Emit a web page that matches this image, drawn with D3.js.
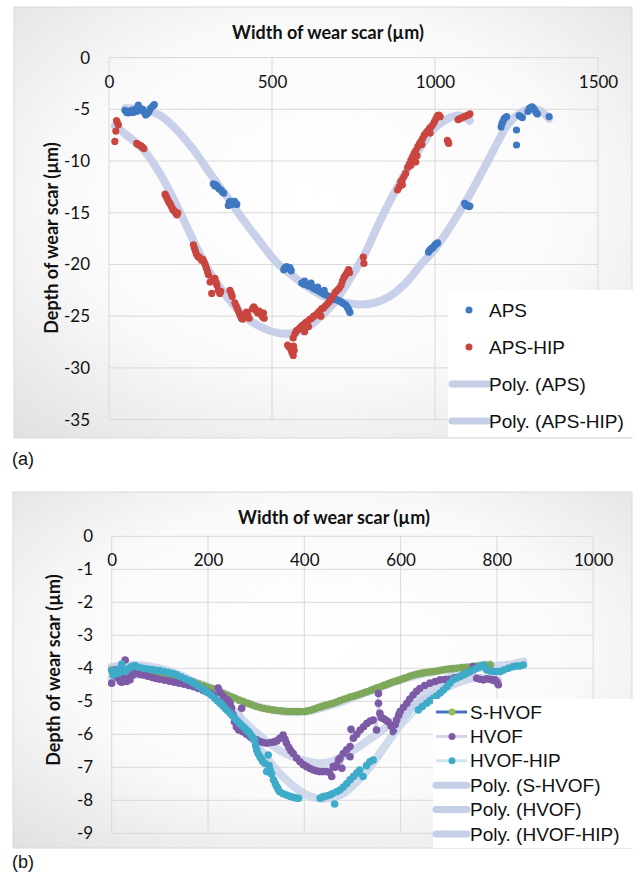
<!DOCTYPE html>
<html>
<head>
<meta charset="utf-8">
<script src="https://cdn.jsdelivr.net/npm/d3@7"></script>
<style>
  body { margin: 0; background: #fff; }
  svg { display: block; }
</style>
</head>
<body>
<div id="chart"></div>
<script>
// ---- (a) APS / APS-HIP : width (µm), depth (µm) ----
const apsPoints = [
  [49,-5.1],[54,-5.3],[59,-5.35],[64,-5.2],[69,-5.1],[74,-5.3],[80,-5.0],[85,-5.2],[90,-4.6],[95,-4.9],
  [100,-5.1],[103,-5.0],[108,-5.3],[113,-5.55],[118,-5.4],[123,-5.2],[128,-4.9],[134,-4.7],[139,-4.55],
  [320,-12.2],[324,-12.4],[328,-12.3],[333,-12.5],[338,-12.7],[343,-12.8],[348,-13.0],[352,-13.1],
  [366,-14.3],[369,-14.0],[372,-13.9],[376,-14.2],[380,-14.0],[385,-13.9],[389,-14.1],[392,-14.2],
  [536,-20.5],[540,-20.3],[545,-20.2],[550,-20.4],[555,-20.3],[559,-20.6],
  [591,-21.8],[597,-21.9],[600,-21.6],[603,-21.9],[609,-22.0],[615,-22.1],[620,-21.8],[621,-22.1],[627,-22.3],
  [633,-22.4],[639,-22.5],[640,-22.2],[645,-22.6],[651,-22.7],[657,-22.8],[660,-22.5],[663,-22.9],[669,-23.0],
  [675,-23.1],[681,-23.2],[687,-23.3],[693,-23.4],[699,-23.4],[705,-23.5],[711,-23.6],[716,-23.7],[721,-23.8],
  [726,-23.9],[730,-24.1],[734,-24.3],[737,-24.5],[739,-24.65],
  [980,-18.8],[984,-18.6],[988,-18.5],[992,-18.4],[996,-18.3],[1000,-18.1],[1004,-18.0],[1008,-17.9],
  [1091,-14.1],[1095,-14.3],[1099,-14.25],[1104,-14.4],[1107,-14.35],
  [1203,-6.7],[1205,-6.4],[1208,-6.2],[1212,-5.9],[1216,-5.8],[1220,-5.7],[1250,-7.0],[1250,-8.45],
  [1258,-5.6],[1263,-5.7],[1268,-5.8],[1285,-5.2],[1290,-4.9],[1294,-4.8],[1298,-4.75],[1302,-4.9],
  [1306,-5.1],[1310,-5.3],[1314,-5.45],[1350,-5.7]
];
const apsHipPoints = [
  [18,-8.1],[21,-7.1],[23,-6.1],[26,-6.3],[29,-6.5],
  [85,-8.3],[89,-8.4],[93,-8.45],[97,-8.5],[100,-8.6],[104,-8.7],[107,-8.8],
  [172,-13.2],[175,-13.4],[178,-13.6],[181,-13.8],[184,-14.0],[187,-14.1],[190,-14.3],[193,-14.5],
  [196,-14.7],[200,-14.8],[204,-15.0],[208,-15.2],[211,-15.0],
  [259,-18.1],[262,-18.4],[265,-18.7],[268,-19.0],[272,-19.2],[276,-19.3],[280,-19.4],[284,-19.6],
  [288,-19.5],[292,-19.8],[296,-20.1],[299,-20.4],[302,-20.7],[305,-21.0],
  [310,-21.7],[315,-22.8],[320,-21.4],[325,-21.35],[328,-21.7],[331,-22.0],[335,-22.5],[340,-22.8],[343,-22.6],
  [371,-22.5],[375,-22.8],[378,-23.1],
  [386,-23.7],[390,-24.0],[394,-24.3],[398,-24.6],[402,-24.9],[406,-25.2],[410,-25.3],[414,-25.0],
  [418,-24.8],[422,-24.6],[426,-24.9],[430,-25.2],
  [440,-24.3],[444,-24.1],[448,-24.3],[452,-24.5],[456,-24.7],[460,-24.5],[464,-24.6],[468,-24.9],
  [472,-25.1],[474,-24.7],[476,-25.2],
  [548,-27.8],[553,-28.0],[558,-28.2],[561,-28.5],[565,-28.8],[566,-27.9],[568,-28.3],
  [565,-27.1],[570,-26.7],[575,-26.4],[580,-26.3],[586,-26.1],[592,-25.9],[598,-25.8],[600,-26.5],
  [604,-25.6],[610,-25.5],[612,-26.0],[616,-25.3],[622,-25.2],[628,-25.0],[634,-24.9],[640,-24.7],
  [646,-24.5],[650,-25.0],[652,-24.3],[658,-24.2],[664,-24.0],[670,-23.8],[676,-23.6],[682,-23.3],
  [688,-23.0],[694,-22.7],[700,-22.5],[706,-22.3],[712,-22.0],[716,-21.6],[720,-21.3],[724,-21.1],
  [728,-20.9],[732,-20.7],[735,-20.5],[738,-20.8],
  [780,-19.3],[782,-19.9],
  [885,-12.8],[890,-12.5],[895,-12.0],[900,-11.8],[900,-12.3],[905,-11.5],[910,-11.2],[916,-10.6],
  [921,-10.3],[926,-9.9],[926,-10.4],[931,-9.6],[936,-9.25],[941,-10.1],[941,-9.0],[945,-9.5],
  [947,-8.6],[952,-8.35],[957,-8.1],[960,-8.4],[962,-7.8],[967,-7.5],[972,-7.3],[977,-7.1],
  [983,-6.85],[985,-7.3],[988,-6.7],[993,-6.5],[998,-6.2],[1003,-5.9],[1008,-5.6],[1012,-5.55],[1016,-5.7],
  [1038,-8.0],[1040,-8.15],[1042,-8.3],
  [1071,-6.0],[1076,-5.9],[1081,-5.85],[1087,-5.75],[1092,-5.7],[1097,-5.6],[1102,-5.55],[1107,-5.45]
];
const apsTrend = [
  [50,-4.9],[100,-5.0],[157,-5.6],[208,-7.0],[259,-8.9],[310,-11.2],[361,-13.4],[412,-15.7],
  [463,-17.8],[514,-19.8],[560,-21.0],[610,-22.2],[660,-23.1],[710,-23.6],[760,-23.85],[810,-23.75],
  [860,-23.1],[910,-21.8],[960,-19.9],[1000,-18.5],[1050,-16.2],[1102,-13.5],[1164,-9.9],
  [1225,-6.4],[1260,-5.4],[1290,-5.0],[1320,-5.1],[1350,-5.9]
];
const apsHipTrend = [
  [18,-6.6],[54,-7.5],[105,-8.9],[156,-11.2],[208,-14.3],[259,-17.7],[310,-20.8],[361,-23.1],
  [412,-24.9],[463,-26.0],[514,-26.6],[550,-26.7],[590,-26.4],[637,-25.4],[688,-23.8],[739,-21.4],
  [781,-19.2],[834,-15.6],[885,-12.5],[936,-9.7],[990,-7.1],[1040,-5.9],[1075,-5.6],[1107,-6.1]
];
const topXTicks = [0, 500, 1000, 1500];
const topYTicks = [0, -5, -10, -15, -20, -25, -30, -35];

// ---- (b) S-HVOF / HVOF / HVOF-HIP ----
const sHvofPoints = [
  [0,-4.05],[10,-4.07],[20,-4.08],[30,-4.09],[40,-4.1],[50,-4.12],[60,-4.13],[70,-4.15],[80,-4.17],[90,-4.18],
  [100,-4.2],[110,-4.22],[120,-4.25],[130,-4.27],[140,-4.3],[150,-4.34],[160,-4.38],[170,-4.42],[180,-4.47],
  [190,-4.52],[197,-4.56],[204,-4.6],[210,-4.63],[218,-4.68],[225,-4.72],[232,-4.77],[239,-4.81],[247,-4.86],
  [255,-4.9],[264,-4.96],[273,-5.01],[282,-5.06],[290,-5.1],[299,-5.15],[308,-5.19],[316,-5.22],[325,-5.24],
  [334,-5.26],[343,-5.28],[352,-5.29],[360,-5.3],[368,-5.31],[377,-5.31],[384,-5.31],[391,-5.31],[401,-5.31],
  [407,-5.29],[413,-5.27],[419,-5.24],[425,-5.21],[431,-5.18],[436,-5.16],[442,-5.13],[447,-5.11],[454,-5.08],
  [460,-5.06],[467,-5.02],[474,-4.98],[482,-4.94],[490,-4.9],[497,-4.86],[505,-4.83],[512,-4.8],[518,-4.77],
  [524,-4.74],[530,-4.71],[538,-4.67],[545,-4.63],[552,-4.59],[560,-4.55],[567,-4.51],[575,-4.47],[581,-4.43],
  [588,-4.4],[594,-4.37],[599,-4.35],[606,-4.31],[612,-4.28],[619,-4.24],[626,-4.21],[633,-4.18],[640,-4.16],
  [647,-4.14],[654,-4.12],[661,-4.11],[668,-4.1],[676,-4.08],[684,-4.06],[692,-4.04],[700,-4.02],[708,-4.01],
  [717,-4.0],[727,-3.98],[737,-3.97],[746,-3.96],[755,-3.95],[762,-3.93],[770,-3.92],[778,-3.91],[786,-3.9]
];
const hvofPoints = [
  [0,-4.45],[3,-4.15],[6,-4.05],[10,-4.25],[14,-4.3],[18,-4.4],[21,-4.42],[25,-4.3],[28,-3.75],[31,-4.4],
  [35,-4.3],[38,-4.35],[41,-4.15],[44,-4.2],[50,-4.15],[58,-4.18],[66,-4.2],[75,-4.24],[84,-4.28],[92,-4.31],
  [100,-4.33],[110,-4.36],[120,-4.39],[130,-4.42],[140,-4.45],[150,-4.48],[160,-4.52],[170,-4.56],[180,-4.61],
  [190,-4.67],[197,-4.71],[205,-4.76],[213,-4.82],[221,-4.6],[225,-4.73],[232,-4.85],[239,-4.95],[243,-5.0],
  [246,-5.06],[249,-5.2],[252,-5.4],[255,-5.62],[259,-5.78],[264,-5.87],[270,-5.21],[272,-5.92],[280,-6.0],
  [288,-6.08],[295,-6.14],[301,-6.17],[308,-6.22],[315,-6.25],[322,-6.27],[330,-6.25],[337,-6.23],[343,-6.2],
  [349,-6.12],[356,-6.02],[360,-6.15],[363,-6.27],[368,-6.4],[372,-6.5],[377,-6.58],[384,-6.72],[391,-6.83],
  [398,-6.92],[405,-6.98],[412,-7.04],[419,-7.08],[426,-7.11],[432,-7.13],[439,-7.13],[446,-7.13],[452,-7.15],
  [457,-7.28],[460,-6.98],[464,-7.0],[467,-6.95],[471,-6.78],[474,-6.73],[478,-7.03],[481,-6.58],[488,-6.47],
  [495,-6.37],[495,-6.68],[497,-5.85],[502,-6.12],[509,-6.0],[516,-5.87],[523,-5.77],[530,-5.67],[537,-5.6],
  [543,-5.57],[550,-5.87],[554,-4.76],[554,-5.06],[557,-5.36],[560,-5.5],[564,-5.52],[569,-5.57],[574,-5.62],
  [580,-5.75],[585,-5.92],[589,-5.7],[592,-5.57],[596,-5.42],[599,-5.31],[606,-5.18],[613,-5.06],[619,-4.93],
  [626,-4.81],[633,-4.7],[640,-4.61],[650,-4.52],[661,-4.45],[672,-4.4],[682,-4.35],[692,-4.34],[702,-4.33],
  [712,-4.29],[723,-4.25],[733,-4.18],[744,-4.1],[751,-3.95],[758,-4.3],[765,-4.33],[772,-4.35],[779,-4.32],
  [786,-4.33],[791,-4.36],[796,-4.35],[800,-4.42],[803,-4.5]
];
const hvofHipPoints = [
  [0,-4.07],[3,-4.2],[6,-4.1],[10,-4.15],[14,-4.15],[17,-4.0],[21,-3.87],[25,-4.05],[28,-4.1],[31,-4.05],
  [36,-4.0],[41,-3.95],[48,-3.92],[56,-3.97],[66,-4.0],[75,-4.02],[84,-4.04],[92,-4.06],[100,-4.07],[109,-4.1],
  [118,-4.13],[127,-4.16],[135,-4.2],[144,-4.26],[153,-4.32],[162,-4.38],[170,-4.45],[178,-4.52],[186,-4.6],
  [193,-4.67],[200,-4.74],[207,-4.82],[214,-4.91],[220,-4.99],[225,-5.06],[231,-5.14],[236,-5.22],[241,-5.29],
  [246,-5.36],[251,-5.44],[256,-5.52],[261,-5.6],[266,-5.67],[271,-5.74],[276,-5.81],[280,-5.87],[284,-5.92],
  [288,-6.0],[292,-6.08],[297,-6.17],[299,-6.35],[301,-6.47],[304,-6.58],[308,-6.68],[311,-6.75],[314,-6.83],
  [318,-6.88],[322,-7.13],[325,-6.63],[327,-6.95],[329,-7.08],[332,-7.2],[336,-7.38],[340,-7.5],[343,-7.59],
  [346,-7.67],[349,-7.74],[356,-7.8],[363,-7.84],[370,-7.88],[377,-7.91],[383,-7.93],[388,-7.94],
  [433,-7.94],[437,-7.91],[440,-7.89],[446,-7.87],[453,-7.84],[458,-7.8],[463,-8.11],[467,-7.74],[474,-7.69],
  [481,-7.6],[488,-7.5],[495,-7.38],[502,-7.28],[509,-7.18],[515,-7.08],[522,-7.28],[529,-6.95],[536,-6.83],
  [543,-6.78],
  [637,-5.26],[645,-5.16],[654,-5.06],[661,-4.98],[668,-4.91],[675,-4.83],[682,-4.75],[689,-4.66],[696,-4.56],
  [702,-4.46],[709,-4.35],[716,-4.3],[723,-4.25],[730,-4.2],[737,-4.15],[744,-4.1],[751,-4.05],[758,-4.0],
  [765,-3.95],[772,-3.9],[775,-3.97],[779,-4.05],[786,-4.08],[793,-4.1],[800,-4.1],[807,-4.1],[814,-4.05],
  [824,-4.0],[834,-3.95],[841,-3.93],[848,-3.93],[855,-3.9]
];
const sHvofTrend = [
  [0,-4.0],[100,-4.15],[200,-4.55],[280,-5.05],[350,-5.3],[400,-5.32],[460,-5.1],[530,-4.72],
  [600,-4.35],[670,-4.1],[730,-3.98],[786,-3.88]
];
const hvofTrend = [
  [0,-4.3],[50,-4.2],[100,-4.25],[150,-4.4],[200,-4.7],[250,-5.25],[300,-5.95],[350,-6.5],[400,-6.8],
  [430,-6.88],[460,-6.8],[500,-6.5],[550,-6.0],[600,-5.45],[650,-4.95],[700,-4.55],[750,-4.3],[803,-4.35]
];
const hvofHipTrend = [
  [0,-3.95],[50,-3.9],[100,-4.0],[150,-4.25],[200,-4.7],[250,-5.4],[300,-6.3],[350,-7.2],[400,-7.8],
  [440,-7.95],[480,-7.8],[530,-7.1],[580,-6.1],[630,-5.1],[680,-4.45],[730,-4.1],[780,-3.95],[830,-3.88],[855,-3.8]
];
const botXTicks = [0, 200, 400, 600, 800, 1000];
const botYTicks = [0, -1, -2, -3, -4, -5, -6, -7, -8, -9];

const trendColor = "#c5cfe8";
const tickFont = "Lato, 'Open Sans', sans-serif";
const legendFont = "'Liberation Sans', Arial, sans-serif";

const svg = d3.select("#chart").append("svg")
    .attr("width", 636)
    .attr("height", 878);

const grad = svg.append("defs").append("radialGradient")
    .attr("id", "bg").attr("cx", "50%").attr("cy", "45%").attr("r", "75%");
grad.append("stop").attr("offset", "0%").attr("stop-color", "#ffffff");
grad.append("stop").attr("offset", "55%").attr("stop-color", "#fafafa");
grad.append("stop").attr("offset", "100%").attr("stop-color", "#e0e0e0");

function drawPanel(p) {
    const g = svg.append("g");

    // chart area with the grey gradient
    g.append("rect")
        .attr("x", p.frame[0]).attr("y", p.frame[1])
        .attr("width", p.frame[2]).attr("height", p.frame[3])
        .attr("fill", "url(#bg)")
        .attr("stroke", "#d9d9d9");

    const x = d3.scaleLinear().domain(p.xDomain).range(p.xRange);
    const y = d3.scaleLinear().domain(p.yDomain).range(p.yRange);

    // gridlines
    g.append("g").selectAll("line").data(p.yTicks).join("line")
        .attr("x1", p.xRange[0]).attr("x2", p.xRange[1])
        .attr("y1", d => y(d)).attr("y2", d => y(d))
        .attr("stroke", "#d9d9d9");
    g.append("g").selectAll("line").data(p.xTicks).join("line")
        .attr("x1", d => x(d)).attr("x2", d => x(d))
        .attr("y1", p.yRange[1]).attr("y2", p.yRange[0])
        .attr("stroke", "#d9d9d9");

    // axes (labels only)
    const gx = g.append("g")
        .attr("transform", `translate(0,${y(0)})`)
        .call(d3.axisBottom(x).tickValues(p.xTicks).tickFormat(d => String(d)).tickSize(0).tickPadding(18));
    const gy = g.append("g")
        .attr("transform", `translate(${p.xRange[0]},0)`)
        .call(d3.axisLeft(y).tickValues(p.yTicks).tickFormat(d => String(d)).tickSize(0).tickPadding(p.yPad));
    [gx, gy].forEach(a => {
        a.select(".domain").remove();
        a.selectAll("text").attr("font-family", tickFont).attr("font-size", 17).attr("fill", "#111");
    });

    // titles
    g.append("text")
        .attr("x", p.titleX).attr("y", p.titleY)
        .attr("text-anchor", "middle").attr("dominant-baseline", "central")
        .attr("font-family", tickFont).attr("font-weight", "bold").attr("font-size", 18)
        .attr("fill", "#111")
        .text("Width of wear scar (µm)");
    g.append("text")
        .attr("transform", `translate(${p.yTitleX},${p.yTitleY}) rotate(-90)`)
        .attr("text-anchor", "middle").attr("dominant-baseline", "central")
        .attr("font-family", tickFont).attr("font-weight", "bold").attr("font-size", 18)
        .attr("fill", "#111")
        .text("Depth of wear scar (µm)");

    const line = d3.line().x(d => x(d[0])).y(d => y(d[1]));
    const smooth = d3.line().x(d => x(d[0])).y(d => y(d[1])).curve(d3.curveCatmullRom);

    // trendlines
    p.trends.forEach(t => {
        g.append("path").datum(t)
            .attr("d", smooth)
            .attr("fill", "none")
            .attr("stroke", trendColor)
            .attr("stroke-opacity", p.trendOpacity)
            .attr("stroke-width", 8)
            .attr("stroke-linecap", "round");
    });

    // series
    p.series.forEach(s => {
        if (s.line) {
            g.append("path").datum(s.data)
                .attr("d", line)
                .attr("fill", "none")
                .attr("stroke", s.line)
                .attr("stroke-width", 2);
        }
        g.append("g").attr("fill", s.color)
            .selectAll("circle").data(s.data).join("circle")
            .attr("cx", d => x(d[0])).attr("cy", d => y(d[1]))
            .attr("r", p.r);
    });

    // legend
    const L = p.legend;
    const lg = g.append("g");
    lg.append("rect")
        .attr("x", L.box[0]).attr("y", L.box[1])
        .attr("width", L.box[2]).attr("height", L.box[3])
        .attr("fill", "#fff");
    L.items.forEach((it, i) => {
        const yy = L.y0 + i * L.dy;
        if (it.trend) {
            lg.append("line")
                .attr("x1", L.lineX[0]).attr("x2", L.lineX[1])
                .attr("y1", yy).attr("y2", yy)
                .attr("stroke", trendColor).attr("stroke-width", 7)
                .attr("stroke-linecap", "round");
        } else {
            if (it.line) {
                lg.append("line")
                    .attr("x1", L.lineX[0]).attr("x2", L.lineX[1])
                    .attr("y1", yy).attr("y2", yy)
                    .attr("stroke", it.line).attr("stroke-width", 3);
            }
            lg.append("circle")
                .attr("cx", L.markerX).attr("cy", yy).attr("r", 3.5)
                .attr("fill", it.color);
        }
        lg.append("text")
            .attr("x", L.textX).attr("y", yy)
            .attr("dominant-baseline", "central")
            .attr("font-family", legendFont).attr("font-size", 19)
            .attr("fill", "#111")
            .text(it.label);
    });
}

drawPanel({
    frame: [14, 7, 618, 431],
    xDomain: [0, 1500], xRange: [109, 598],
    yDomain: [-35, 0], yRange: [419.6, 57.6],
    xTicks: topXTicks, yTicks: topYTicks, yPad: 19,
    titleX: 328, titleY: 32, yTitleX: 51, yTitleY: 238,
    r: 3.6, trendOpacity: 0.95,
    trends: [apsTrend, apsHipTrend],
    series: [
        { data: apsPoints, color: "#3f78c1" },
        { data: apsHipPoints, color: "#c9463f" }
    ],
    legend: {
        box: [448, 290, 185, 147], y0: 310, dy: 37,
        lineX: [452, 488], markerX: 469, textX: 489,
        items: [
            { label: "APS", color: "#3f78c1" },
            { label: "APS-HIP", color: "#c9463f" },
            { label: "Poly. (APS)", trend: true },
            { label: "Poly. (APS-HIP)", trend: true }
        ]
    }
});

drawPanel({
    frame: [13, 492, 619, 356],
    xDomain: [0, 1000], xRange: [111.7, 593.2],
    yDomain: [-9, 0], yRange: [833.3, 536.3],
    xTicks: botXTicks, yTicks: botYTicks, yPad: 18.5,
    titleX: 334, titleY: 517, yTitleX: 53, yTitleY: 670,
    r: 3.8, trendOpacity: 0.8,
    trends: [sHvofTrend, hvofTrend, hvofHipTrend],
    series: [
        { data: sHvofPoints, color: "#7fa95a", line: "#4472c4" },
        { data: hvofPoints, color: "#7d5aa6", line: "#d5cce4" },
        { data: hvofHipPoints, color: "#3eabc9", line: "#c8e3ec" }
    ],
    legend: {
        box: [433, 699, 200, 149], y0: 712, dy: 24.4,
        lineX: [436, 467], markerX: 452, textX: 470,
        items: [
            { label: "S-HVOF", color: "#9bbb59", line: "#4472c4" },
            { label: "HVOF", color: "#7d5aa6", line: "#d9d2e6" },
            { label: "HVOF-HIP", color: "#3eabc9", line: "#cde6ee" },
            { label: "Poly. (S-HVOF)", trend: true },
            { label: "Poly. (HVOF)", trend: true },
            { label: "Poly. (HVOF-HIP)", trend: true }
        ]
    }
});

// panel letters
svg.append("text").attr("x", 12).attr("y", 459).attr("dominant-baseline", "central")
    .attr("font-family", legendFont).attr("font-size", 18).attr("fill", "#111").text("(a)");
svg.append("text").attr("x", 12).attr("y", 862).attr("dominant-baseline", "central")
    .attr("font-family", legendFont).attr("font-size", 18).attr("fill", "#111").text("(b)");
</script>
</body>
</html>
